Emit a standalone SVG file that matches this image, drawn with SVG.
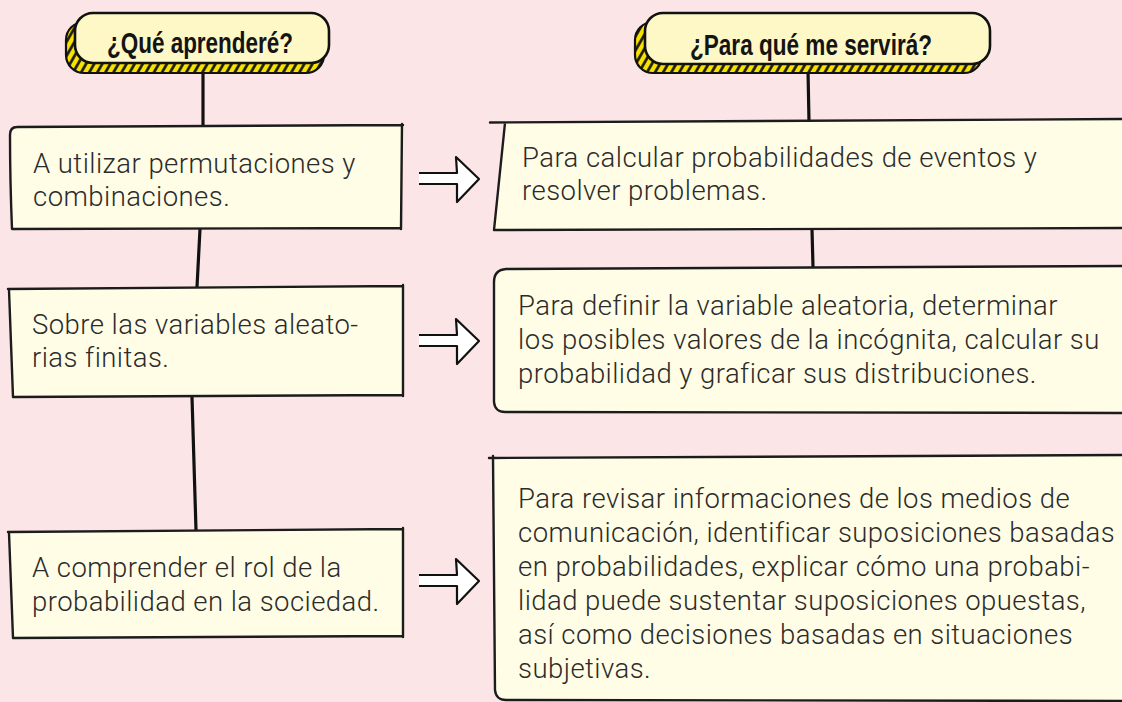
<svg xmlns="http://www.w3.org/2000/svg" width="1122" height="702" viewBox="0 0 1122 702">
  <defs>
    <pattern id="hatch" patternUnits="userSpaceOnUse" width="7" height="7" patternTransform="rotate(30)">
      <rect width="7" height="7" fill="#f8e200"/>
      <line x1="1.5" y1="-1" x2="1.5" y2="8" stroke="#111" stroke-width="2.6"/>
    </pattern>
    <style>
      .bg { fill: #fce5e7; }
      .box { fill: #fffde6; stroke: none; }
      .edge { fill: none; stroke: #1c1c1c; stroke-width: 2.4; stroke-linecap: round; stroke-linejoin: round; }
      .pill { fill: #fef8c6; stroke: #111; stroke-width: 2.6; }
      .shadow { fill: url(#hatch); stroke: #111; stroke-width: 2.2; }
      .conn { fill: none; stroke: #111; stroke-width: 3.2; stroke-linecap: round; }
      .arrow { fill: #ffffff; stroke: #111; stroke-width: 2.2; stroke-linejoin: round; }
      .hdr { font-family: "Liberation Sans Narrow", "Liberation Sans", Arial, sans-serif; font-weight: bold; font-size: 30px; fill: #141414; }
      .txt { font-family: Roboto, "Open Sans", "Liberation Sans", sans-serif; font-weight: 300; font-size: 27.5px; letter-spacing: 0.45px; fill: #2b2b2b; }
    </style>
  </defs>

  <rect class="bg" x="0" y="0" width="1122" height="702"/>

  <g id="connectors">
    <path class="conn" d="M203,70 L203,126"/>
    <path class="conn" d="M200,229 L197,287"/>
    <path class="conn" d="M192,397 L196,530"/>
    <path class="conn" d="M808,70 L809,122"/>
    <path class="conn" d="M812,229 L813,267"/>
    <path class="arrow" d="M419,173 H457 L456,157 L479,179 L457,202 L457,184 H419"/>
    <path class="arrow" d="M419,335 H457 L456,319 L479,341 L457,364 L457,346 H419"/>
    <path class="arrow" d="M419,575 H457 L456,559 L479,581 L457,604 L457,586 H419"/>
  </g>

  <g id="header-left">
    <rect class="shadow" x="66" y="22" width="258" height="51" rx="18"/>
    <rect class="pill" x="75" y="13" width="254" height="50" rx="18"/>
    <text class="hdr" x="107" y="53" textLength="186" lengthAdjust="spacingAndGlyphs">¿Qué aprenderé?</text>
  </g>

  <g id="header-right">
    <rect class="shadow" x="635" y="22" width="347" height="51" rx="18"/>
    <rect class="pill" x="645" y="13" width="345" height="51" rx="18"/>
    <text class="hdr" x="690" y="55" textLength="242" lengthAdjust="spacingAndGlyphs">¿Para qué me servirá?</text>
  </g>

  <g id="left-1">
    <path class="box" d="M17,127 L403,125 L401,228 L12,229 Q10,180 10,135 Q10,127 17,127 Z"/>
    <path class="edge" d="M17,127 L403,125 M402,124 L401,229 M401,228 L12,229 Q10,180 10,135 Q10,127 17,127"/>
    <text class="txt" x="33" y="173">A utilizar permutaciones y</text>
    <text class="txt" x="33" y="206">combinaciones.</text>
  </g>

  <g id="left-2">
    <path class="box" d="M8,289 L403,286 L403,395 L13,397 Z"/>
    <path class="edge" d="M8,289 L403,286 M403,285 L403,396 M403,395 L13,397 M13,397 L9,290"/>
    <text class="txt" x="32" y="334">Sobre las variables aleato-</text>
    <text class="txt" x="32" y="367">rias finitas.</text>
  </g>

  <g id="left-3">
    <path class="box" d="M8,532 L403,529 L403,636 L13,638 Z"/>
    <path class="edge" d="M8,532 L403,529 M403,528 L403,637 M403,636 L13,638 M13,638 L9,533"/>
    <text class="txt" x="32" y="577">A comprender el rol de la</text>
    <text class="txt" x="32" y="611">probabilidad en la sociedad.</text>
  </g>

  <g id="right-1">
    <path class="box" d="M505,123 L1130,119 L1130,229 L494,230 Z"/>
    <path class="edge" d="M490,122.5 L1130,119 M505,123 L494,230 M494,230 L1130,228"/>
    <text class="txt" x="522" y="167">Para calcular probabilidades de eventos y</text>
    <text class="txt" x="522" y="200">resolver problemas.</text>
  </g>

  <g id="right-2">
    <path class="box" d="M506,269 L1130,266 L1130,413 L505,412 Q495,412 494,402 L494,282 Q494,270 506,269 Z"/>
    <path class="edge" d="M506,269 L1130,266 M506,269 Q494,270 494,282 L494,402 Q495,412 505,412 L1130,413"/>
    <text class="txt" x="518" y="315">Para definir la variable aleatoria, determinar</text>
    <text class="txt" x="518" y="349">los posibles valores de la incógnita, calcular su</text>
    <text class="txt" x="518" y="383">probabilidad y graficar sus distribuciones.</text>
  </g>

  <g id="right-3">
    <path class="box" d="M493,458 L1130,455 L1130,710 L506,701 Q496,700 495,690 Z"/>
    <path class="edge" d="M489,458 L1130,455 M493,456 L495,690 Q496,700 506,700 L1130,701"/>
    <text class="txt" x="518" y="508">Para revisar informaciones de los medios de</text>
    <text class="txt" x="518" y="542">comunicación, identificar suposiciones basadas</text>
    <text class="txt" x="518" y="576">en probabilidades, explicar cómo una probabi-</text>
    <text class="txt" x="518" y="610">lidad puede sustentar suposiciones opuestas,</text>
    <text class="txt" x="518" y="644">así como decisiones basadas en situaciones</text>
    <text class="txt" x="518" y="678">subjetivas.</text>
  </g>
</svg>
